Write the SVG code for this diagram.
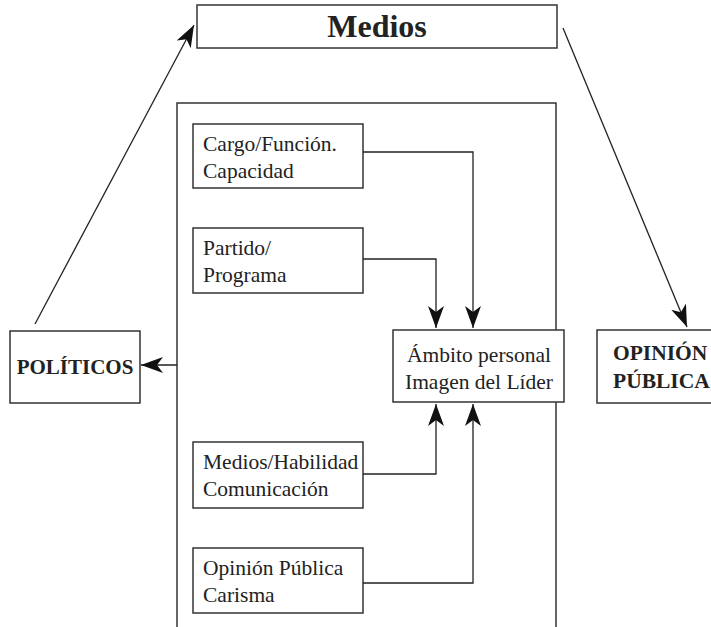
<svg xmlns="http://www.w3.org/2000/svg" width="711" height="627" viewBox="0 0 711 627">
<style>
.box{fill:#fff;stroke:#333;stroke-width:1.5}
.t{font-family:"Liberation Serif",serif;font-size:21.5px;fill:#222}
.b{font-family:"Liberation Serif",serif;font-weight:bold;fill:#222}
.c{fill:none;stroke:#222;stroke-width:1.3}
</style>
<defs>
<marker id="ah" viewBox="0 0 22 16" refX="22" refY="8" markerWidth="22" markerHeight="16" markerUnits="userSpaceOnUse" orient="auto">
<path d="M0,0 L22,8 L0,16 L6,8 Z" fill="#111"/>
</marker>
</defs>
<g id="frame"><path class="box" d="M177,627 L177,103 L556,103 L556,627" fill="none"/></g>
<g id="medios"><rect class="box" x="197" y="5" width="360" height="43"/><text class="b" x="377" y="37" font-size="32" text-anchor="middle">Medios</text></g>
<g id="politicos"><rect class="box" x="10" y="331" width="130" height="72"/><text class="b" x="75" y="374" font-size="21" text-anchor="middle">POLÍTICOS</text></g>
<g id="opinion"><rect class="box" x="597" y="330" width="130" height="73"/><text class="b" font-size="21.5"><tspan x="613" y="360">OPINIÓN</tspan><tspan x="613" y="388">PÚBLICA</tspan></text></g>
<g id="cargo"><rect class="box" x="193" y="124" width="170" height="64"/><text class="t" x="203" y="151">Cargo/Función.</text><text class="t" x="203" y="178">Capacidad</text></g>
<g id="partido"><rect class="box" x="193" y="228" width="170" height="65"/><text class="t" x="203" y="255">Partido/</text><text class="t" x="203" y="282">Programa</text></g>
<g id="ambito"><rect class="box" x="393" y="330" width="171" height="72"/><text class="t" x="479" y="362" text-anchor="middle">Ámbito personal</text><text class="t" x="479" y="389" text-anchor="middle">Imagen del Líder</text></g>
<g id="mediosHab"><rect class="box" x="193" y="442" width="170" height="66"/><text class="t" x="203" y="469">Medios/Habilidad</text><text class="t" x="203" y="496">Comunicación</text></g>
<g id="opinionCar"><rect class="box" x="193" y="548" width="170" height="65"/><text class="t" x="203" y="575">Opinión Pública</text><text class="t" x="203" y="602">Carisma</text></g>
<g id="connectors">
<path class="c" d="M35,324 L194,25" marker-end="url(#ah)"/>
<path class="c" d="M563,28 L687,327" marker-end="url(#ah)"/>
<path class="c" d="M177,365 L141,365" marker-end="url(#ah)"/>
<path class="c" d="M363,152 L473,152 L473,328" marker-end="url(#ah)"/>
<path class="c" d="M363,259 L436,259 L436,328" marker-end="url(#ah)"/>
<path class="c" d="M363,474 L436,474 L436,404" marker-end="url(#ah)"/>
<path class="c" d="M363,583 L473,583 L473,404" marker-end="url(#ah)"/>
</g>
</svg>
